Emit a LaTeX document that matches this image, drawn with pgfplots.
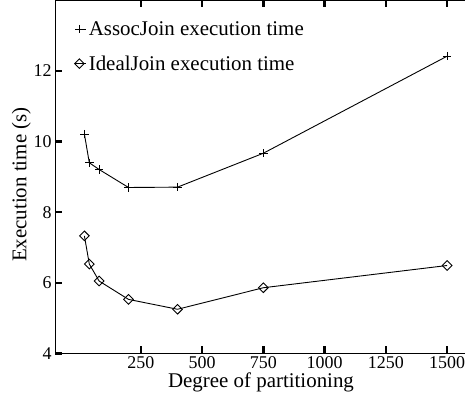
\documentclass[border=0pt]{standalone}
\usepackage{pgfplots}
\pgfplotsset{compat=1.18}
\usepackage{fontspec}
\setmainfont{Liberation Serif}
\begin{document}
\begin{tikzpicture}
\begin{axis}[
  scale only axis,
  width=412bp, height=353bp,
  xmin=-100, xmax=1581, ymin=4, ymax=14,
  axis line style={line width=1bp},
  xtick={250,500,750,1000,1250,1500},
  ytick={4,6,8,10,12},
  ytick pos=left,
  xtick pos=both,
  tick align=inside,
  major tick length=7bp,
  xtick style={line width=2.4bp, black},
  ytick style={line width=2.4bp, black},
  /pgf/number format/assume math mode=true,
  /pgf/number format/1000 sep={},
  tick label style={font=\fontsize{18}{18}\selectfont},
  label style={font=\fontsize{21}{21}\selectfont},
  xlabel={Degree of partitioning},
  ylabel={Execution time (s)},
  xlabel style={yshift=3bp},
  ylabel style={at={(ticklabel cs:0.478,-4bp)}},
  legend style={draw=none, fill=none, at={(axis description cs:0.047,0.947)}, anchor=north west,
    font=\fontsize{21}{21}\selectfont, row sep=15bp, inner sep=0pt},
  legend cell align=left,
  legend image code/.code={\draw[#1] plot[only marks] coordinates {(0bp,0bp)}; \path (-4bp,0bp) -- (7bp,0bp);},
  after end axis/.code={
    \foreach \xx in {250,500,750,1000,1250,1500}{
      \draw[black, line width=2.4bp] (axis cs:\xx,4) -- ++(0bp,7bp);
      \draw[black, line width=2.4bp] (axis cs:\xx,14) -- ++(0bp,-7bp);
    }
    \foreach \yy in {4,6,8,10,12}{
      \draw[black, line width=2.4bp] (axis cs:-100,\yy) -- ++(7bp,0bp);
    }
  },
]
\addplot[black, line width=0.9bp, mark=+, mark size=4.2bp, mark options={line width=0.9bp}]
  coordinates {(20,10.21) (40,9.40) (80,9.21) (200,8.70) (400,8.71) (750,9.67) (1500,12.42)};
\addlegendentry{AssocJoin execution time}
\addplot[black, line width=0.9bp, mark=square, mark size=3.4bp, mark options={rotate=45, line width=0.9bp, solid}]
  coordinates {(20,7.33) (40,6.53) (80,6.05) (200,5.53) (400,5.25) (750,5.86) (1500,6.49)};
\addlegendentry{IdealJoin execution time}
\end{axis}
\pgfresetboundingbox
\path ([xshift=-55bp,yshift=-46.7bp]current axis.south west) rectangle ([xshift=-2bp,yshift=0.4bp]current axis.north east);
\end{tikzpicture}
\end{document}
